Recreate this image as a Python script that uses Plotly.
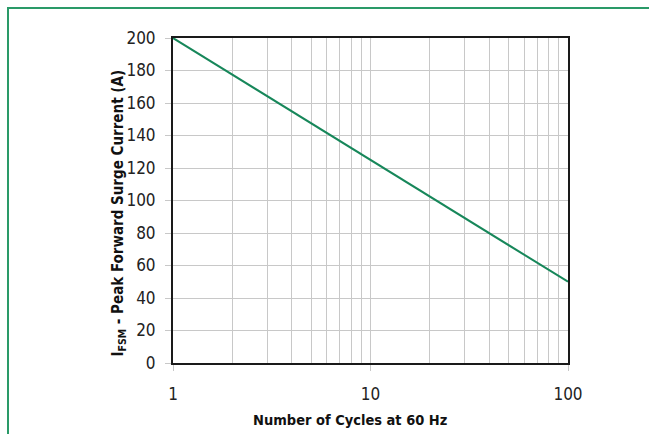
import plotly.graph_objects as go

# Surge current rating vs. number of cycles
cycles = [1, 100]
surge_current = [200, 50]

x_major = [1, 10, 100]
x_minor = [2, 3, 4, 5, 6, 7, 8, 9, 20, 30, 40, 50, 60, 70, 80, 90]
y_ticks = [0, 20, 40, 60, 80, 100, 120, 140, 160, 180, 200]

GREEN = "#17875a"
FONT = "DejaVu Sans Condensed, Liberation Sans Narrow, sans-serif"

fig = go.Figure()
fig.add_trace(go.Scatter(
    x=cycles, y=surge_current, mode="lines",
    line=dict(color=GREEN, width=2), showlegend=False, hoverinfo="skip",
))

fig.update_layout(
    width=649, height=434,
    margin=dict(l=173, r=81, t=38, b=71),
    paper_bgcolor="white", plot_bgcolor="white",
    font=dict(family=FONT, size=17, color="#222"),
    shapes=[dict(type="rect", xref="paper", yref="paper",
                 x0=-173/395 + 8/395, x1=1.5, y0=-1, y1=1 + (38 - 8)/325,
                 line=dict(color="#2a9a68", width=2), layer="below")],
    annotations=[
        dict(text="<b>Number of Cycles at 60 Hz</b>", xref="paper", yref="paper",
             x=0.448, y=-0.175, showarrow=False, xanchor="center", yanchor="middle",
             font=dict(size=14.5, color="#111")),
        dict(text="<b>I<sub>FSM</sub> - Peak Forward Surge Current (A)</b>",
             xref="paper", yref="paper", x=-0.139, y=0.46, textangle=-90,
             showarrow=False, xanchor="center", yanchor="middle",
             font=dict(size=15, color="#111")),
    ],
)

fig.update_xaxes(
    type="log", range=[0, 2],
    tickvals=x_major, ticktext=[str(v) for v in x_major],
    showgrid=True, gridcolor="#c8c8c8", gridwidth=1,
    ticks="outside", ticklen=6, tickcolor="#c8c8c8", ticklabelstandoff=9,
    minor=dict(tickvals=x_minor, showgrid=True, gridcolor="#c8c8c8", gridwidth=1, ticks=""),
    showline=True, linecolor="#1a1a1a", linewidth=2, mirror=True,
    zeroline=False,
)
fig.update_yaxes(
    range=[0, 200], tickvals=y_ticks,
    showgrid=True, gridcolor="#c8c8c8", gridwidth=1,
    ticks="outside", ticklen=6, tickcolor="#c8c8c8", ticklabelstandoff=6,
    showline=True, linecolor="#1a1a1a", linewidth=2, mirror=True,
    zeroline=False,
)

fig.write_html("out.html")
